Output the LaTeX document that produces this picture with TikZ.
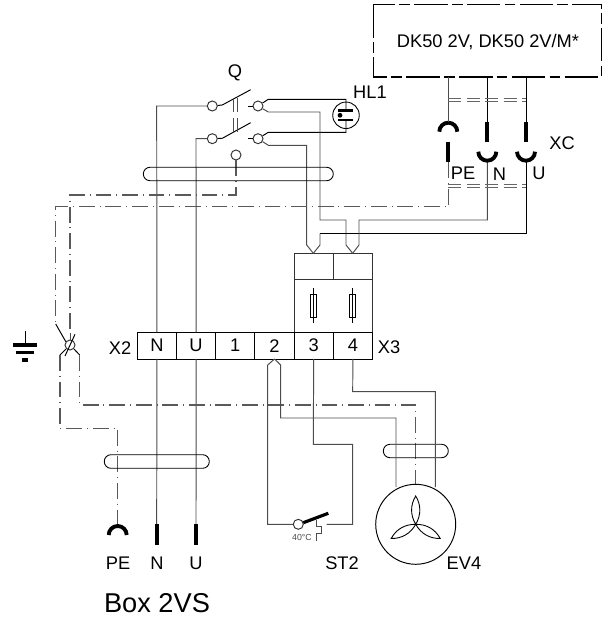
\documentclass[tikz,border=0pt]{standalone}
\usepackage{fontspec}
\setmainfont{Liberation Sans}
\usetikzlibrary{positioning}
\tikzset{
wire/.style={line width=0.55pt,black!70},
wireb/.style={line width=0.55pt,black},
pewire/.style={line width=0.6pt,black!65,dash pattern=on 9pt off 2.8pt on 0.5pt off 2.8pt},
shield/.style={line width=0.6pt,black!60,dash pattern=on 7.5pt off 3pt},
sleeve/.style={line width=0.5pt,black,rounded corners=3.8pt},
contact/.style={circle,draw=black!80,fill=white,line width=0.55pt,inner sep=0pt,minimum size=0.2cm},
cell/.style={draw=black,line width=0.55pt,minimum width=0.784cm,minimum height=0.534cm,inner sep=0pt,outer sep=0pt},
lbl/.style={inner sep=0pt,font=\fontsize{10.4}{12}\selectfont},
plugbar/.style={line width=2.3pt,black},
socket/.style={line width=2.2pt,black}
}
\begin{document}
\begin{tikzpicture}[x=0.02cm,y=-0.02cm]
\useasboundingbox (0,0) rectangle (611,621);
%unit
\draw[line width=0.6pt,black,dash pattern=on 19pt off 2.5pt on 6pt off 2.5pt](373.3,4.7) rectangle (601.7,77);
\node[lbl](unit) at (488,41.7){DK50 2V, DK50 2V/M*};
%terminals X2 X3
\node[cell,anchor=north west](xn) at (137.3,332.3){};
\node[cell,right=0pt of xn](xu){};
\node[cell,right=0pt of xu](xa){};
\node[cell,right=0pt of xa](xb){};
\node[cell,right=0pt of xb](xc){};
\node[cell,right=0pt of xc](xd){};
\node[lbl] at (xn){N};
\node[lbl] at (xu){U};
\node[lbl] at (xa){1};
\node[lbl] at (xb){2};
\node[lbl] at (xc){3};
\node[lbl] at (xd){4};
\node[lbl](xtwo) at (120,348){X2};
\node[lbl](xthree) at (389,347){X3};
%fuse block
\draw[line width=0.55pt,black!80](294,332.3)--(294,253.3)--(372.3,253.3)--(372.3,332.3);
\draw[line width=0.55pt,black!80](294,279.3)--(372.3,279.3);
\draw[line width=0.55pt,black!80](333.2,253.3)--(333.2,279.3);
\foreach \kx in {313.4,352.7}{
\draw[line width=0.5pt](\kx,288.3)--(\kx,323.3);
\draw[line width=0.5pt](\kx-3,294.3) rectangle (\kx+3,317.3);
}
%switch Q
\node[lbl](qlabel) at (235,73){Q};
\node[contact](qa) at (212.3,106){};
\node[contact](qb) at (258,106){};
\node[contact](qc) at (212.3,138.7){};
\node[contact](qd) at (258,138.7){};
\node[contact](qe) at (236,155){};
\draw[wireb](222.3,105)--(250.7,89.7);
\draw[wireb](222.3,138.3)--(250.7,122.7);
\draw[wireb](qa)--(222.3,105);
\draw[wireb](qc)--(222.3,138.3);
\draw[wireb](248.3,106)--(qb);
\draw[wireb](248.3,138.7)--(qd);
\draw[wire](233.7,98.3)--++(0,14);
\draw[wire](237.3,98.3)--++(0,14);
\draw[wire](233.7,117.7)--++(0,14);
\draw[wire](237.3,117.7)--++(0,14);
%lamp
\node[circle,draw=black,line width=0.5pt,fill=white,inner sep=0pt,minimum size=0.53cm](lamp) at (346,115.3){};
\node[lbl](hlone) at (370,92.7){HL1};
\draw[wireb](qb)--(268.3,99.3)--(346,99.3)--(346,110.5);
\draw[wireb](qd)--(268.3,132.3)--(346,132.3)--(346,120);
\draw[line width=1.3pt](338,110.5)--(353,110.5);
\draw[line width=1.3pt](338,120)--(353,120);
\fill(340,115.3) circle (2.4);
%wires to fuses
\draw[wire](qb)--(268.3,112)--(320,112)--(320,220)--(346,220)--(346,245)--(352.7,253.3);
\draw[wire](qd)--(268.3,145.3)--(306.7,145.3)--(306.7,245)--(313.3,253.3);
\draw[wireb](526,77)--(526,122);
\draw[wireb](487.3,77)--(487.3,122);
\draw[wire](313.3,253.3)--(320,245)--(320,233.3);
\draw[wireb](320,233.3)--(526,233.3)--(526,161.7);
\draw[wire](352.7,253.3)--(359,245)--(359,220)--(487.3,220)--(487.3,161.7);
%connector XC
\foreach \kx in {487.3,526}{
\draw[plugbar](\kx,122.3)--(\kx,142.3);
\draw[socket](\kx-9,151.7) arc (180:360:9 and -9);
}
\draw[plugbar](448.3,141.7)--(448.3,162.3);
\draw[socket](439.3,131.7) arc (180:360:9 and 9);
\draw[wire](448.3,77)--(448.3,122.5);
\draw[pewire](448.3,162.3)--(448.3,206.7)--(55.7,206.7)--(55.7,324);
\draw[wireb](55.7,324)--(66,342);
\node[lbl](xclabel) at (562,143){XC};
\node[lbl](xcpe) at (463,173){PE};
\node[lbl](xcn) at (499.5,174){N};
\node[lbl](xcu) at (539,173){U};
\draw[shield](448.3,98.3)--(526,98.3);
\draw[shield](448.3,101.7)--(526,101.7);
\draw[shield](448.3,184.3)--(526,184.3);
\draw[shield](448.3,187.7)--(526,187.7);
%mains wires
\draw[wire](qa)--(156.7,106)--(xn.north);
\draw[wire](qc)--(196,138.7)--(xu.north);
\draw[wire](xn.south)--(156.7,524.3);
\draw[wire](xu.south)--(196,524.3);
\draw[pewire](qe)--(236,195)--(70,195)--(70,333);
%earth clamp
\node[circle,draw=black!80,line width=0.55pt,inner sep=0pt,minimum size=0.2cm](clamp) at (70,345){};
\draw[wireb](65,356)--(75,334.3);
\draw[wire](70,333)--(clamp);
\draw[wireb](66,349)--(60,355);
\draw[wireb](74,349)--(79.7,355);
\draw[pewire](60,355)--(60,428.3)--(117.7,428.3)--(117.7,525);
\draw[pewire](79.7,355)--(79.7,405)--(415.7,405)--(415.7,484.3);
%ground
\draw[wireb](25,331)--(25,344);
\draw[line width=2.2pt](13,345.3)--(37,345.3);
\draw[line width=2pt](16,352.7)--(34,352.7);
\draw[line width=2.4pt](22,360)--(28,360);
%sleeves
\draw[sleeve](143.3,167.3) rectangle (333.3,180.7);
\draw[sleeve](104.3,454.7) rectangle (209.3,468.3);
\draw[sleeve](383.3,444.3) rectangle (448.3,457.7);
%plugs Box 2VS
\draw[plugbar](156.7,524.3)--(156.7,545);
\draw[plugbar](196,524.3)--(196,545);
\draw[socket](108.7,535) arc (180:360:9 and 9);
\node[lbl](bpe) at (118,563){PE};
\node[lbl](bn) at (157,563){N};
\node[lbl](bu) at (196,563){U};
\node[inner sep=0pt,font=\fontsize{15.5}{18}\selectfont](boxname) at (157,603){Box 2VS};
%thermostat
\node[contact](thermo) at (298.3,524.3){};
\draw[line width=1.8pt,black](303.3,522.7)--(328.3,513.3);
\draw[wire](xb.south)--(267.7,365)--(267.7,524.3)--(thermo);
\draw[wire](xb.south)--(280.7,365)--(280.7,418)--(396,418)--(396,487);
\draw[wire](xc.south)--(313.3,444.3)--(352.7,444.3)--(352.7,524.3)--(326.7,524.3);
\draw[wire](xd.south)--(352.7,391.7)--(435.3,391.7)--(435.3,487);
\draw[line width=0.5pt,black!70](316,520)--(316,526.7)--(321,526.7)--(321,533.3)--(316,533.3)--(316,541);
\node[inner sep=0pt,text=black!70,font=\fontsize{5}{6}\selectfont](thermotext) at (302,537.5){40°C};
\node[lbl](sttwo) at (342,563.3){ST2};
%motor
\node[circle,draw=black,line width=0.55pt,fill=none,inner sep=0pt,minimum size=1.6cm](motor) at (415.7,524.3){};
\foreach \kang in {90,210,330}{
\draw[line width=0.5pt,rotate around={\kang-90:(415.7,524.3)}](415.7,524.3) .. controls (410.2,515) and (410.2,505) .. (415.7,496) .. controls (421.2,505) and (421.2,515) .. (415.7,524.3);
}
\node[lbl](evfour) at (464,563.3){EV4};
\end{tikzpicture}
\end{document}
